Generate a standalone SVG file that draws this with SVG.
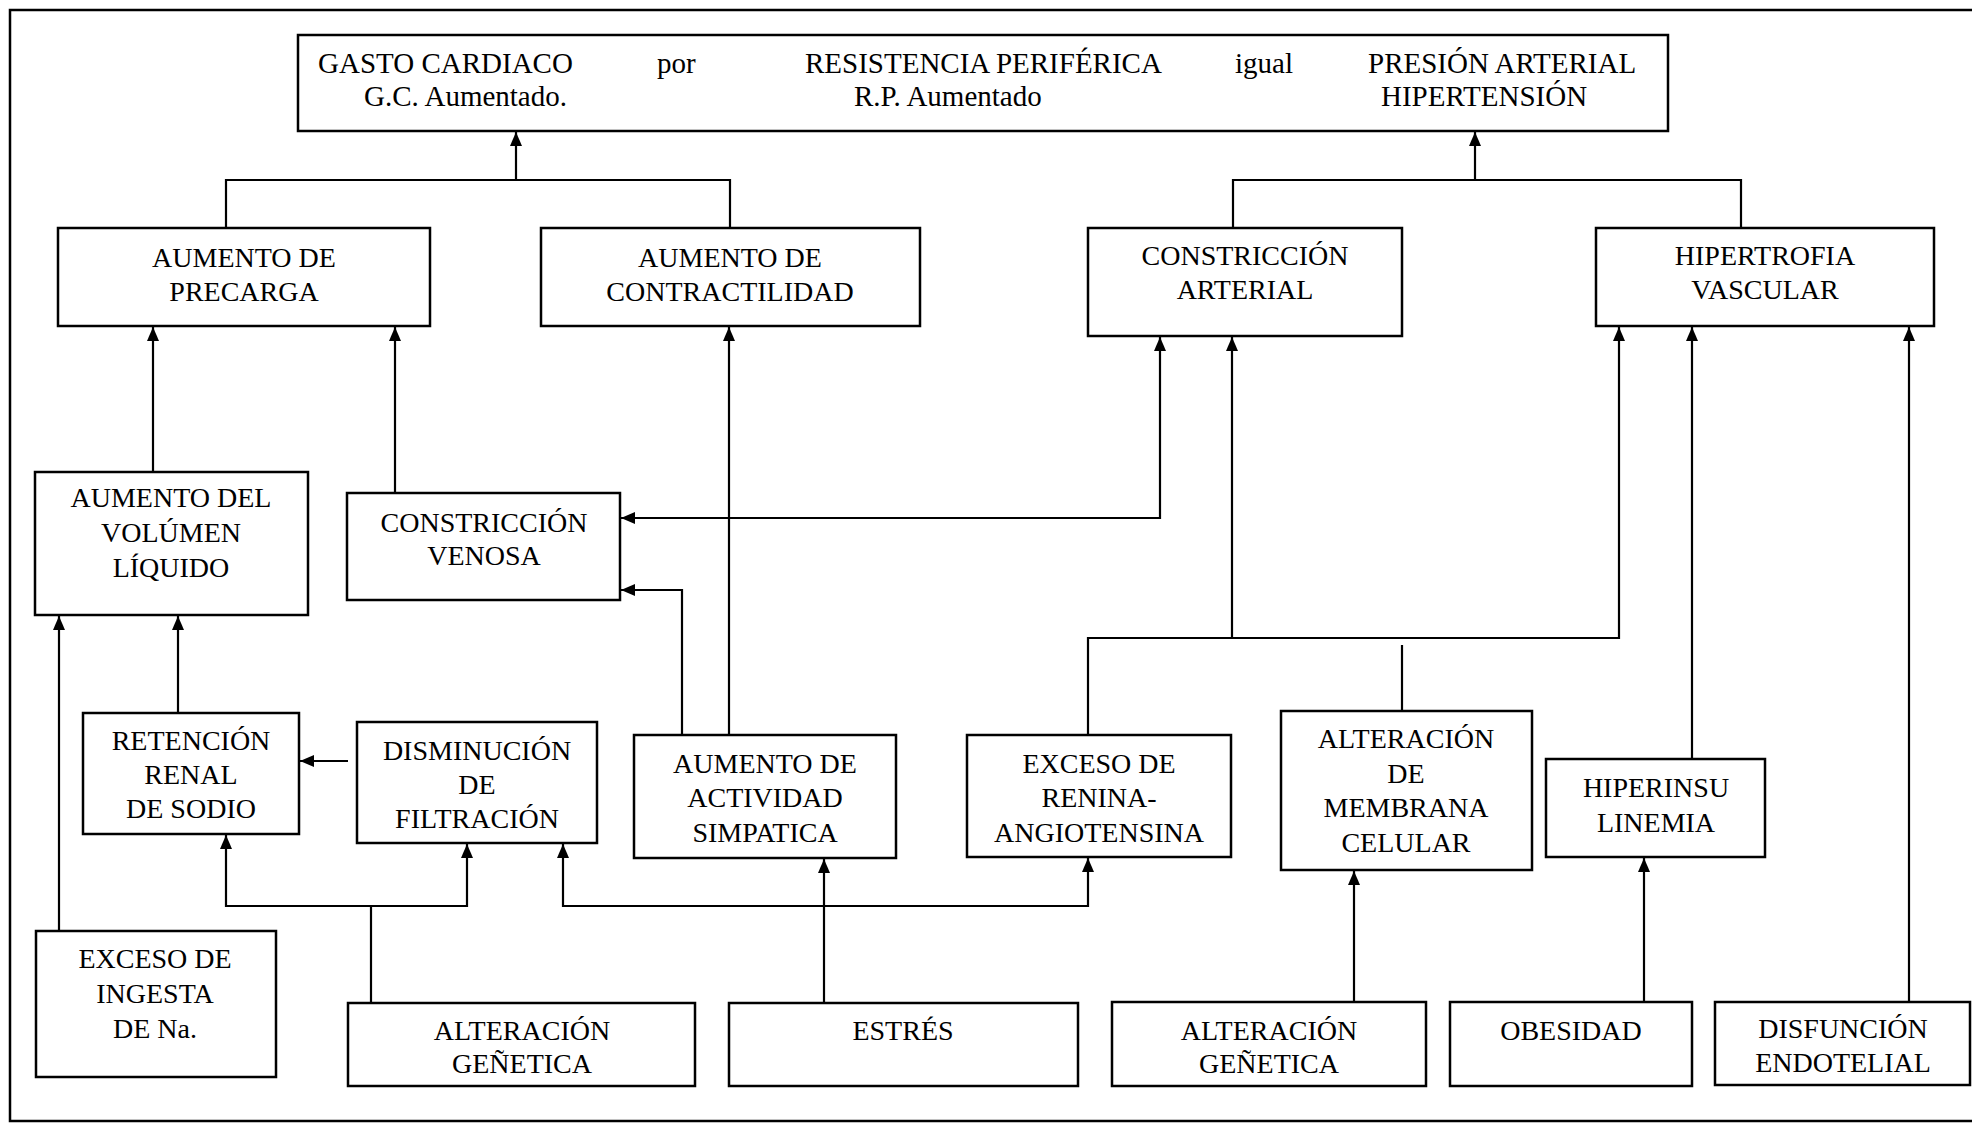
<svg xmlns="http://www.w3.org/2000/svg" width="1972" height="1123" viewBox="0 0 1972 1123">
<style>
.box{fill:#fff;stroke:#000;stroke-width:2.5}
.t{font-family:"Liberation Serif","Times New Roman",serif;font-size:28px;fill:#000;text-anchor:middle}
.ts{font-family:"Liberation Serif","Times New Roman",serif;font-size:29px;fill:#000}
.c{fill:none;stroke:#000;stroke-width:2.2}
.a{marker-end:url(#ah)}
.b{marker-start:url(#ah);marker-end:url(#ah)}
</style>
<defs>
<marker id="ah" markerUnits="userSpaceOnUse" markerWidth="14" markerHeight="12" refX="14" refY="6" orient="auto-start-reverse">
<path d="M0,0 L14,6 L0,12 z" fill="#000"/>
</marker>
</defs>
<rect x="0" y="0" width="1972" height="1123" fill="#fff"/>
<rect id="frame" x="10" y="10" width="1980" height="1111" fill="none" stroke="#000" stroke-width="2.5"/>

<g id="connectors">
<path class="c" d="M226,228 V180 H730 V228"/>
<path class="c a" d="M516,180 V132"/>
<path class="c" d="M1233,228 V180 H1741 V228"/>
<path class="c a" d="M1475,180 V132"/>
<path class="c a" d="M153,472 V327"/>
<path class="c a" d="M395,493 V327"/>
<path class="c a" d="M729,735 V327"/>
<path class="c b" d="M1160,337 V518 H621"/>
<path class="c a" d="M682,735 V590 H621"/>
<path class="c a" d="M1088,735 V638 H1619 V327"/>
<path class="c a" d="M1232,638 V337"/>
<path class="c" d="M1402,645 V711"/>
<path class="c a" d="M1692,759 V327"/>
<path class="c a" d="M1909,1002 V327"/>
<path class="c a" d="M1644,1002 V858"/>
<path class="c a" d="M1354,1002 V871"/>
<path class="c a" d="M824,1003 V859"/>
<path class="c a" d="M371,1003 V906 H226 V835"/>
<path class="c a" d="M371,906 H467 V844"/>
<path class="c b" d="M563,844 V906 H1088 V858"/>
<path class="c a" d="M59,931 V616"/>
<path class="c a" d="M178,713 V616"/>
<path class="c a" d="M348,761 H300"/>
</g>

<g id="top">
<rect class="box" x="298" y="35" width="1370" height="96"/>
<text class="ts" x="318" y="73">GASTO CARDIACO</text>
<text class="ts" x="364" y="106">G.C. Aumentado.</text>
<text class="ts" x="657" y="73">por</text>
<text class="ts" x="805" y="73">RESISTENCIA PERIFÉRICA</text>
<text class="ts" x="854" y="106">R.P. Aumentado</text>
<text class="ts" x="1235" y="73">igual</text>
<text class="ts" x="1368" y="73">PRESIÓN ARTERIAL</text>
<text class="ts" x="1381" y="106">HIPERTENSIÓN</text>
</g>

<g id="precarga">
<rect class="box" x="58" y="228" width="372" height="98"/>
<text class="t" x="244" y="267">AUMENTO DE</text>
<text class="t" x="244" y="301">PRECARGA</text>
</g>
<g id="contractilidad">
<rect class="box" x="541" y="228" width="379" height="98"/>
<text class="t" x="730" y="267">AUMENTO DE</text>
<text class="t" x="730" y="301">CONTRACTILIDAD</text>
</g>
<g id="constriccion-arterial">
<rect class="box" x="1088" y="228" width="314" height="108"/>
<text class="t" x="1245" y="265">CONSTRICCIÓN</text>
<text class="t" x="1245" y="299">ARTERIAL</text>
</g>
<g id="hipertrofia">
<rect class="box" x="1596" y="228" width="338" height="98"/>
<text class="t" x="1765" y="265">HIPERTROFIA</text>
<text class="t" x="1765" y="299">VASCULAR</text>
</g>

<g id="volumen">
<rect class="box" x="35" y="472" width="273" height="143"/>
<text class="t" x="171" y="507">AUMENTO DEL</text>
<text class="t" x="171" y="542">VOLÚMEN</text>
<text class="t" x="171" y="577">LÍQUIDO</text>
</g>
<g id="constriccion-venosa">
<rect class="box" x="347" y="493" width="273" height="107"/>
<text class="t" x="484" y="532">CONSTRICCIÓN</text>
<text class="t" x="484" y="565">VENOSA</text>
</g>

<g id="retencion">
<rect class="box" x="83" y="713" width="216" height="121"/>
<text class="t" x="191" y="750">RETENCIÓN</text>
<text class="t" x="191" y="784">RENAL</text>
<text class="t" x="191" y="818">DE SODIO</text>
</g>
<g id="disminucion">
<rect class="box" x="357" y="722" width="240" height="121"/>
<text class="t" x="477" y="760">DISMINUCIÓN</text>
<text class="t" x="477" y="794">DE</text>
<text class="t" x="477" y="828">FILTRACIÓN</text>
</g>
<g id="actividad">
<rect class="box" x="634" y="735" width="262" height="123"/>
<text class="t" x="765" y="773">AUMENTO DE</text>
<text class="t" x="765" y="807">ACTIVIDAD</text>
<text class="t" x="765" y="842">SIMPATICA</text>
</g>
<g id="renina">
<rect class="box" x="967" y="735" width="264" height="122"/>
<text class="t" x="1099" y="773">EXCESO DE</text>
<text class="t" x="1099" y="807">RENINA-</text>
<text class="t" x="1099" y="842">ANGIOTENSINA</text>
</g>
<g id="membrana">
<rect class="box" x="1281" y="711" width="251" height="159"/>
<text class="t" x="1406" y="748">ALTERACIÓN</text>
<text class="t" x="1406" y="783">DE</text>
<text class="t" x="1406" y="817">MEMBRANA</text>
<text class="t" x="1406" y="852">CELULAR</text>
</g>
<g id="hiperinsulinemia">
<rect class="box" x="1546" y="759" width="219" height="98"/>
<text class="t" x="1656" y="797">HIPERINSU</text>
<text class="t" x="1656" y="832">LINEMIA</text>
</g>

<g id="ingesta">
<rect class="box" x="36" y="931" width="240" height="146"/>
<text class="t" x="155" y="968">EXCESO DE</text>
<text class="t" x="155" y="1003">INGESTA</text>
<text class="t" x="155" y="1038">DE Na.</text>
</g>
<g id="genetica1">
<rect class="box" x="348" y="1003" width="347" height="83"/>
<text class="t" x="522" y="1040">ALTERACIÓN</text>
<text class="t" x="522" y="1073">GEÑETICA</text>
</g>
<g id="estres">
<rect class="box" x="729" y="1003" width="349" height="83"/>
<text class="t" x="903" y="1040">ESTRÉS</text>
</g>
<g id="genetica2">
<rect class="box" x="1112" y="1002" width="314" height="84"/>
<text class="t" x="1269" y="1040">ALTERACIÓN</text>
<text class="t" x="1269" y="1073">GEÑETICA</text>
</g>
<g id="obesidad">
<rect class="box" x="1450" y="1002" width="242" height="84"/>
<text class="t" x="1571" y="1040">OBESIDAD</text>
</g>
<g id="disfuncion">
<rect class="box" x="1715" y="1002" width="255" height="83"/>
<text class="t" x="1843" y="1038">DISFUNCIÓN</text>
<text class="t" x="1843" y="1072">ENDOTELIAL</text>
</g>
</svg>
